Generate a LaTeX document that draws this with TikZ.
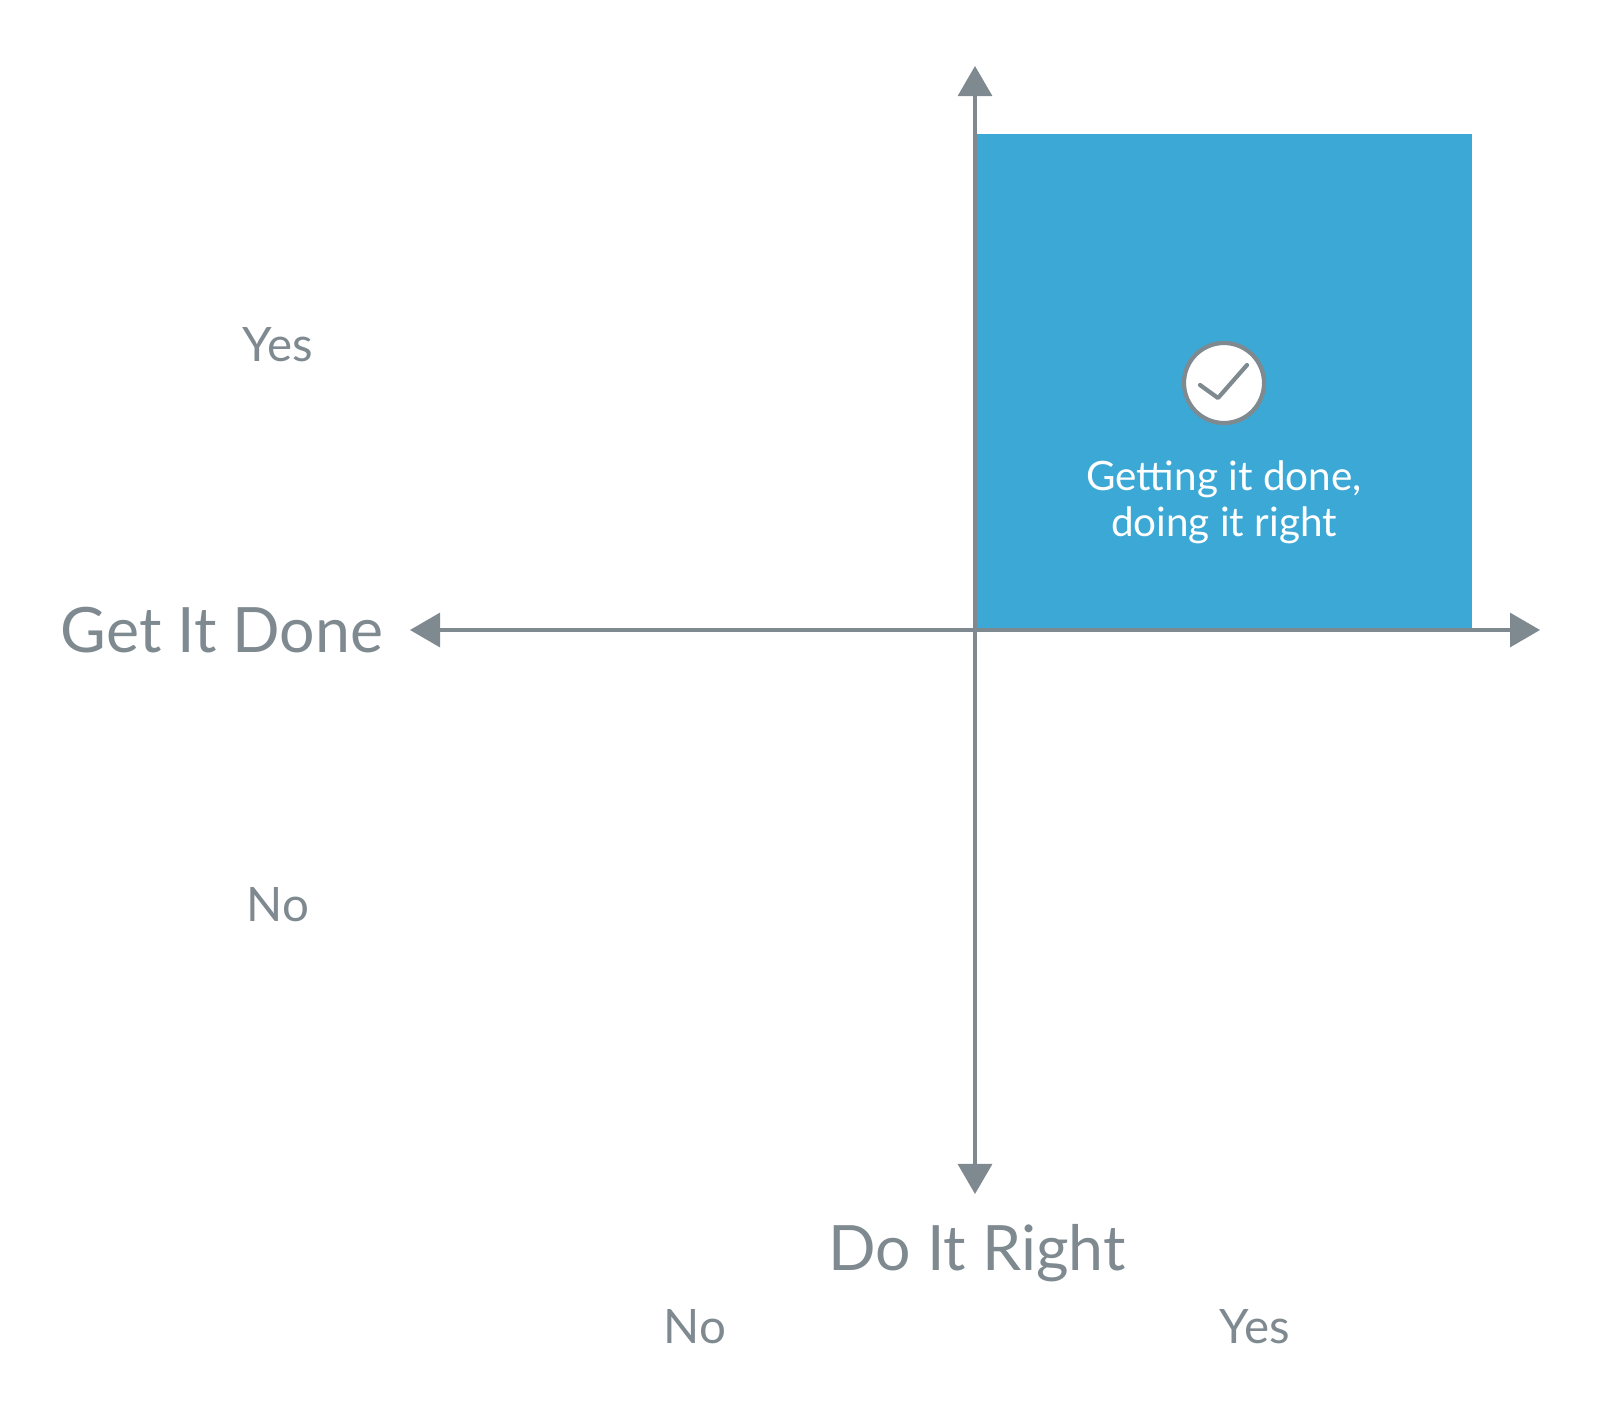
\documentclass[tikz,border=0pt]{standalone}
\usepackage{fontspec}
\setmainfont{Lato}
\usetikzlibrary{arrows.meta, positioning}
\definecolor{axisgray}{HTML}{7F8A90}
\definecolor{quadblue}{HTML}{3CA8D6}
\tikzstyle{axis} = [line width=0.9pt, draw=axisgray, {Triangle[width=0.34cm,length=0.3cm]}-{Triangle[width=0.34cm,length=0.3cm]}]
\tikzstyle{biglabel} = [text=axisgray, font=\fontsize{17.8}{21}\selectfont]
\tikzstyle{ticklabel} = [text=axisgray, font=\fontsize{13.5}{16}\selectfont]
\tikzstyle{quadrant} = [fill=quadblue, draw=none]
\tikzstyle{checkmark} = [circle, draw=axisgray, line width=1.2pt, fill=white, minimum size=0.8cm]
\begin{document}
\begin{tikzpicture}[x=0.01cm, y=-0.01cm]
\useasboundingbox (0,0) rectangle (1600,1406);

%% Quadrant and its label
\fill [quadrant] (977,134) rectangle (1472,630);
\node (check) [checkmark] at (1224,383) {};
\draw [axisgray, line width=1.2pt, line cap=round, line join=round] (1200,385) -- (1218,398) -- (1247,365);
\node (quad) [text=white, align=center, font=\fontsize{11.5}{13}\selectfont] at (1224,502) {Getting it done,\\doing it right};

%% Axes
\coordinate (top) at (975,66);
\coordinate (bottom) at (975,1194);
\coordinate (left) at (410,630);
\coordinate (right) at (1540,630);
\draw [axis] (top)--(bottom);
\draw [axis] (left)--(right);

%% Labels
\node (gid) [biglabel] at (222,630) {Get It Done};
\node (dir) [biglabel] at (977,1253) {Do It Right};
\node (gyes) [ticklabel] at (278,345) {Yes};
\node (gno)  [ticklabel] at (278,905) {No};
\node (dno)  [ticklabel] at (695,1327) {No};
\node (dyes) [ticklabel] at (1255,1327) {Yes};
\end{tikzpicture}
\end{document}
